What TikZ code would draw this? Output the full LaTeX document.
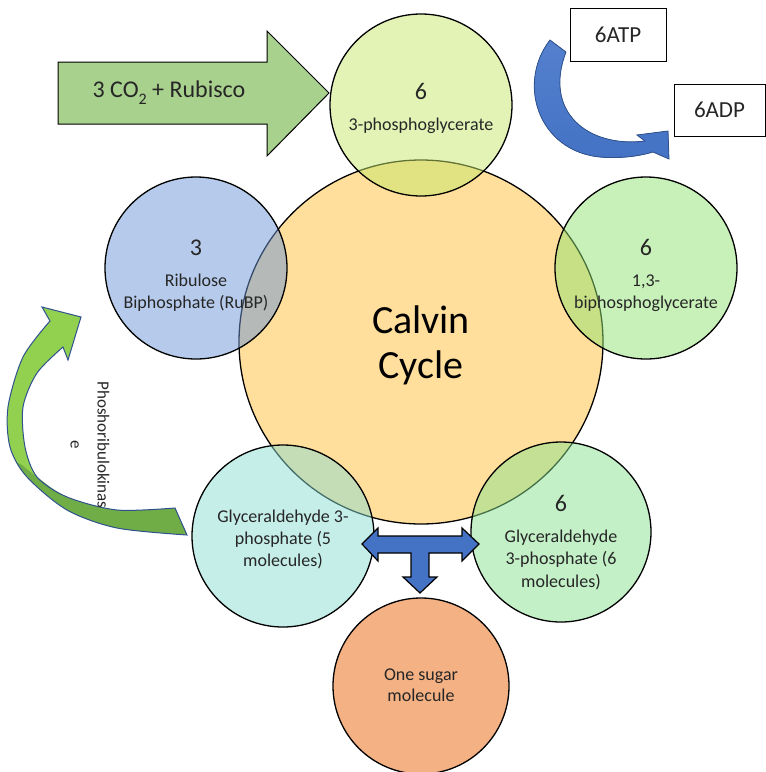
\documentclass[tikz,border=0pt]{standalone}
\usepackage{fontspec}
\setmainfont{Carlito}
\definecolor{bigc}{RGB}{255,223,155}
\definecolor{cTop}{RGB}{197,231,107}
\definecolor{cLeft}{RGB}{109,151,215}
\definecolor{cRight}{RGB}{145,225,115}
\definecolor{cBL}{RGB}{139,221,211}
\definecolor{cBR}{RGB}{137,225,145}
\definecolor{cSugar}{RGB}{244,177,131}
\definecolor{arrowGreen}{RGB}{169,209,142}
\definecolor{tBlue}{RGB}{68,114,196}
\definecolor{tBlueLight}{RGB}{84,128,206}
\definecolor{tBlueDark}{RGB}{47,82,143}
\definecolor{lightGreen}{RGB}{146,208,80}
\definecolor{darkGreen}{RGB}{112,173,71}
\definecolor{txt}{RGB}{38,38,38}
\begin{document}
\begin{tikzpicture}[x=1pt,y=-1pt,
  ring/.style={circle, draw=black, line width=1.3pt, inner sep=0pt, minimum size=#1},
  glass/.style={fill opacity=0.5, draw opacity=1},
  lbl/.style={anchor=base, inner sep=0pt, text=txt, font=\fontsize{18}{22}\selectfont},
  num/.style={anchor=base, inner sep=0pt, text=txt, font=\fontsize{24}{29}\selectfont},
  big/.style={anchor=base, inner sep=0pt, text=black, font=\fontsize{40}{47}\selectfont},
  box/.style={draw=black, line width=0.8pt, inner sep=0pt, text=txt, font=\fontsize{23}{28}\selectfont},
  blueshape/.style={top color=tBlueLight, bottom color=tBlue, draw=tBlueDark, line width=0.8pt},
  tshape/.style={fill=tBlue, draw=black, line width=1.2pt},
  co2shape/.style={fill=arrowGreen, draw=black, line width=1pt},
  gshape/.style={draw=tBlueDark, line width=1pt}
]
\useasboundingbox (0,0) rectangle (766,772);
% circles
\node[ring=364pt, fill=bigc] (cycle) at (421,342) {};
\node[ring=182pt, fill=cTop, glass] (pga) at (421,105) {};
\node[ring=182pt, fill=cLeft, glass] (rubp) at (196,268) {};
\node[ring=182pt, fill=cRight, glass] (bpg) at (646,268) {};
\node[ring=182pt, fill=cBL, glass] (g5) at (283,536) {};
\node[ring=180pt, fill=cBR, glass] (g6) at (561,532) {};
\node[ring=176pt, fill=cSugar] (sugar) at (421,686) {};
% texts
\node[big] (calA) at (421,333) {Calvin};
\node[big] (calB) at (421,378) {Cycle};
\node[num] (pga6) at (421,99) {6};
\node[lbl] (pgaT) at (421,130) {3-phosphoglycerate};
\node[num] (rubp3) at (196,255) {3};
\node[lbl] (rubpA) at (196,286) {Ribulose};
\node[lbl] (rubpB) at (196,308) {Biphosphate (RuBP)};
\node[num] (bpg6) at (646,255) {6};
\node[lbl] (bpgA) at (646,286) {1,3-};
\node[lbl] (bpgB) at (646,308) {biphosphoglycerate};
\node[lbl] (g5A) at (283,522) {Glyceraldehyde 3-};
\node[lbl] (g5B) at (283,544) {phosphate (5};
\node[lbl] (g5C) at (283,566) {molecules)};
\node[num] (g6n) at (561,511) {6};
\node[lbl] (g6A) at (561,542) {Glyceraldehyde};
\node[lbl] (g6B) at (561,564) {3-phosphate (6};
\node[lbl] (g6C) at (561,587) {molecules)};
\node[lbl] (sugA) at (421,680) {One sugar};
\node[lbl] (sugB) at (421,701) {molecule};
% CO2 arrow
\filldraw[co2shape] (58,62) -- (267,62) -- (267,31) -- (329,93) -- (267,156) -- (267,124) -- (58,124) -- cycle;
\node[anchor=base, inner sep=0pt, text=txt, font=\fontsize{24}{29}\selectfont] (co2) at (169,97) {3 CO\raisebox{-0.3em}{\fontsize{16}{16}\selectfont 2} + Rubisco};
% ATP / ADP
\node[box, minimum width=96pt, minimum height=53pt] (atp) at (618,34.5) {6ATP};
\node[box, minimum width=91pt, minimum height=52pt] (adp) at (719.5,110) {6ADP};
\filldraw[blueshape] (550,40) .. controls (515,85) and (540,158) .. (610,157.5) .. controls (628,158) and (643,155) .. (653,152) -- (669,159) -- (668,131) -- (637,135) -- (645,141) .. controls (588,148) and (543,112) .. (566,52) -- cycle;
% T arrow
\filldraw[tshape] (362,544) -- (378,528) -- (378,536) -- (462,536) -- (462,528) -- (479,544) -- (462,561) -- (462,553) -- (429,553) -- (429,577) -- (437,577) -- (420,593) -- (403,577) -- (411,577) -- (411,553) -- (378,553) -- (378,561) -- cycle;
% green curved arrow
\fill[lightGreen] (42,307) -- (81,317) -- (68,360) -- (63,347) -- plot[smooth] coordinates {(63,347) (37,373) (23,407) (25,447) (37,477) (67,497) (117,510) (175,508)} -- (187,535) -- plot[smooth] coordinates {(187,535) (117,528) (67,510) (27,477) (10,447) (8,407) (23,357) (50,321)} -- cycle;
\fill[darkGreen] plot[smooth] coordinates {(22,465) (37,477) (67,497) (117,510) (175,508)} -- (187,535) -- plot[smooth] coordinates {(187,535) (117,528) (67,510) (27,477) (16,462)} -- cycle;
\draw[gshape] (42,307) -- (81,317) -- (68,360) -- (63,347) -- plot[smooth] coordinates {(63,347) (37,373) (23,407) (25,447) (37,477) (67,497) (117,510) (175,508)} -- (187,535) -- plot[smooth] coordinates {(187,535) (117,528) (67,510) (27,477) (10,447) (8,407) (23,357) (50,321)} -- cycle;
\node[rotate=-90, align=center, text=txt, font=\fontsize{17}{27}\selectfont] (prk) at (90,445) {Phoshoribulokinas\\e};
\end{tikzpicture}
\end{document}
